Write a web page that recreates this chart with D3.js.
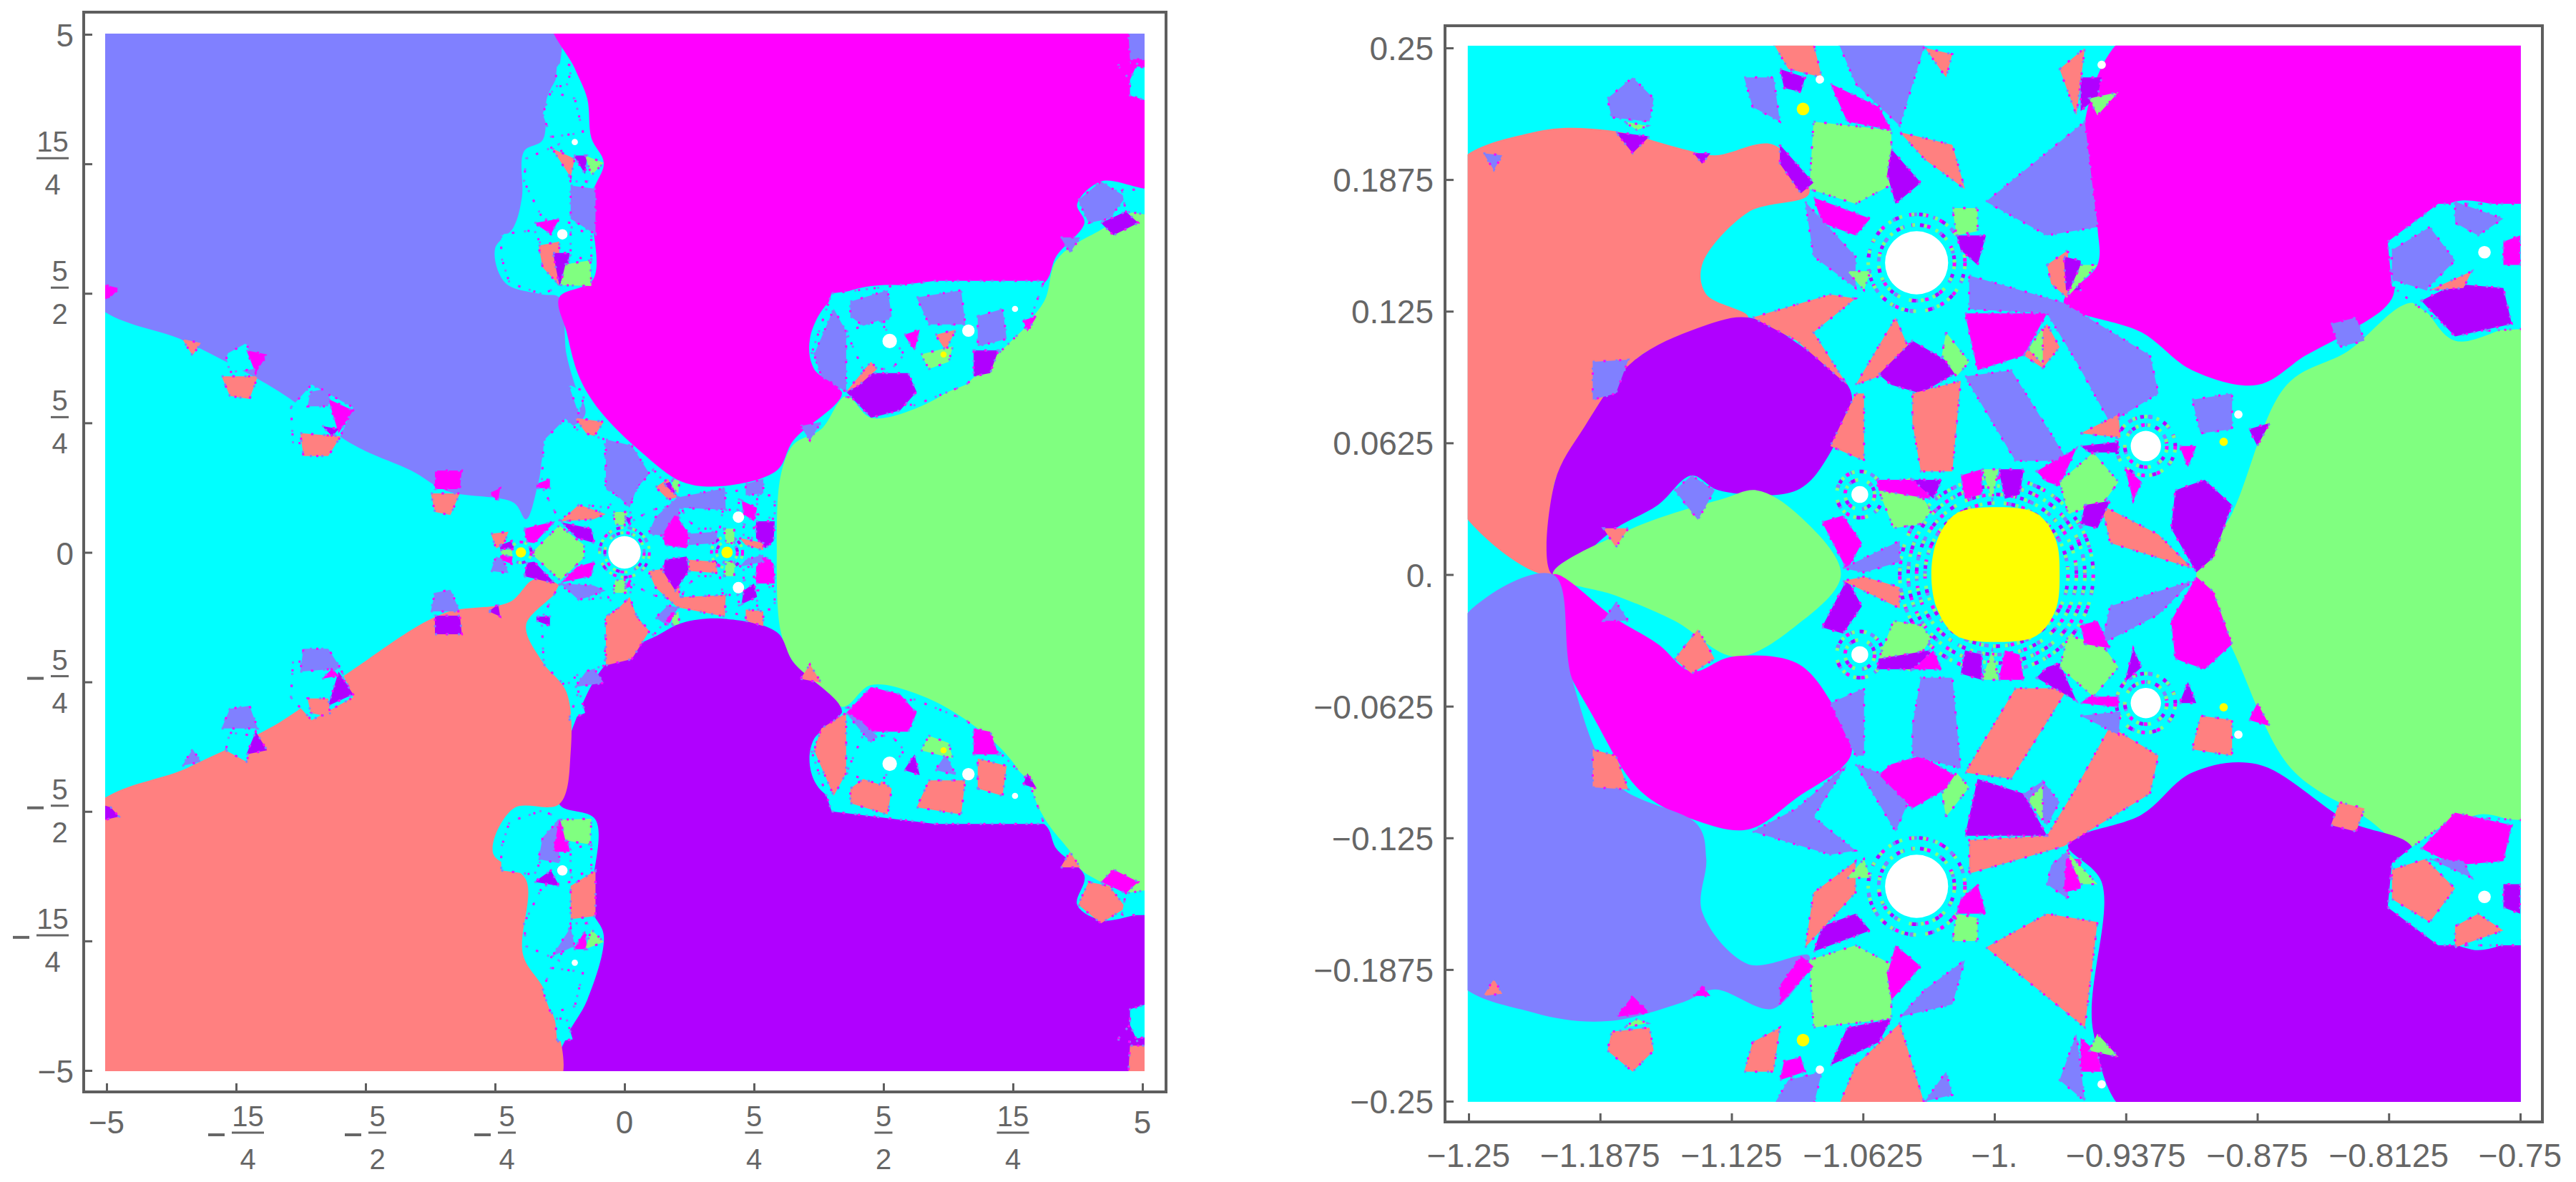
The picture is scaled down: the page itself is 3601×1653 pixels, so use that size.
<!DOCTYPE html>
<html>
<head>
<meta charset="utf-8">
<script src="https://cdn.jsdelivr.net/npm/d3@7"></script>
<style>
  body { margin: 0; background: #fff; }
  text { font-family: "Liberation Sans", sans-serif; fill: #666; }
</style>
</head>
<body>
<div id="chart"></div>
<script>
const basinColors = { a: '#8080ff', m: '#ff00ff', c: '#00ffff', g: '#80ff80', s: '#ff8080', p: '#b000ff', y: '#ffff00', w: '#ffffff' }

// every shape is [basin, x, y, x, y, ...] in plot units
const wideBasins = [
  ['a', -5.2,5.2, -.7,5.2, -.63,4.67, -.75,4.38, -.79,3.98, -.97,3.87, -.99,3.43, -1.07,3.14, -1.25,2.93, -1.15,2.6, -.79,2.49, -.63,2.46, -.56,1.91, -.48,1.62, -.38,1.33, -.75,1.04, -.83,.68, -.95,.32, -1.07,.48, -1.71,.59, -2.06,.79, -2.62,1.04, -3.33,1.55, -4.2,2.02, -5.2,2.5],
  ['m', -.7,5.2, 5.2,5.2, 5.2,3.54, 4.6,3.58, 4.37,3.36, 4.44,3.18, 4.17,2.86, 4.05,2.6, 3.49,2.53, 2.38,2.57, 1.98,2.42, 1.79,2.06, 1.83,1.77, 2.1,1.54, 1.63,1.08, 1.47,.79, .95,.64, .56,.68, .16,.97, -.24,1.37, -.44,1.7, -.56,2.13, -.63,2.46, -.3,2.64, -.32,3.43, -.2,3.76, -.32,4, -.36,4.38, -.48,4.67],
  ['g', 5.2,3.3, 4.52,3.07, 4.17,2.82, 4.05,2.42, 3.73,2.06, 3.33,1.7, 2.86,1.41, 2.38,1.3, 2.14,1.51, 1.9,1.19, 1.63,1.04, 1.51,.75, 1.47,.03, 1.51,-.77, 1.63,-1.06, 2.1,-1.49, 2.38,-1.28, 2.86,-1.38, 3.33,-1.64, 3.73,-2, 4.09,-2.62, 4.29,-2.87, 4.44,-3.09, 5.2,-3.25],
  ['p', -.7,-5.2, 5.2,-5.2, 5.2,-3.52, 4.6,-3.55, 4.37,-3.4, 4.44,-3.12, 4.17,-2.86, 4.05,-2.62, 3.3,-2.5, 2.38,-2.52, 1.9,-2.3, 1.79,-2.06, 1.83,-1.8, 2.1,-1.54, 1.63,-1.06, 1.47,-.77, .95,-.64, .56,-.68, .32,-.8, -.16,-1.06, -.48,-1.64, -.56,-1.93, -.63,-2.43, -.28,-2.58, -.32,-3.43, -.2,-3.7, -.36,-4.32, -.56,-4.68],
  ['s', -5.2,-2.55, -4.2,-2.07, -3.33,-1.64, -2.62,-1.13, -1.75,-.59, -1.11,-.48, -.87,-.26, -.63,-.33, -.95,-.7, -.79,-1.06, -.56,-1.35, -.52,-1.93, -.63,-2.43, -1.07,-2.47, -1.27,-2.9, -.95,-3.16, -.98,-3.88, -.75,-4.28, -.67,-5.2, -5.2,-5.2]
]

const wideUpper = [
  ['c', -3.85,1.91, -3.65,2.02, -3.57,1.77, -3.81,1.74],
  ['s', -3.89,1.7, -3.54,1.7, -3.62,1.48, -3.81,1.51],
  ['m', -3.65,1.95, -3.45,1.91, -3.56,1.73],
  ['c', -3.22,1.4, -3.02,1.62, -2.62,1.4, -2.76,1.08, -3.2,1.05],
  ['s', -3.13,1.15, -2.74,1.12, -2.86,.93, -3.1,.93],
  ['m', -2.86,1.48, -2.62,1.37, -2.76,1.15],
  ['a', -3.03,1.55, -2.84,1.59, -2.86,1.41, -3.06,1.41],
  ['p', -2.92,1.22, -2.76,1.19, -2.82,1.12],
  ['s', -1.87,.57, -1.59,.57, -1.68,.36, -1.83,.39],
  ['m', -1.83,.79, -1.57,.79, -1.59,.61, -1.83,.61],
  ['s', -4.27,2.06, -4.09,2.02, -4.17,1.9],
  ['m', -5.1,2.6, -4.88,2.55, -4.96,2.46, -5.1,2.42],
  ['c', -.71,4.45, -.48,4.38, -.4,4.05, -.71,4.01, -.79,4.23],
  ['c', -.65,4.72, -.5,4.7, -.56,4.5, -.67,4.5],
  ['c', -.95,3.8, -.63,3.94, -.52,3.58, -.36,3.58, -.52,3.18, -.79,3.22, -.97,3.58],
  ['a', -.52,3.54, -.28,3.51, -.28,3.07, -.52,3.22],
  ['s', -.7,3.9, -.48,3.8, -.52,3.62],
  ['p', -.49,3.83, -.36,3.83, -.38,3.65],
  ['g', -.38,3.83, -.2,3.76, -.32,3.64],
  ['c', -1.19,3.07, -.87,3.11, -.63,2.57, -.79,2.49, -1.11,2.6, -1.19,2.85],
  ['s', -.83,2.96, -.63,3, -.63,2.58, -.79,2.75],
  ['p', -.69,2.89, -.53,2.89, -.56,2.67, -.63,2.58],
  ['c', -.52,3.14, -.32,3.07, -.32,2.82, -.52,2.86],
  ['g', -.57,2.78, -.33,2.82, -.32,2.57, -.62,2.58],
  ['m', -.87,3.18, -.63,3.22, -.71,3.07],
  ['s', -.48,1.3, -.2,1.26, -.32,1.08],
  ['c', -.54,1.62, -.38,1.55, -.44,1.33],
  ['c', -.78,1.08, -.57,1.29, -.44,1.17, -.19,1.09, -.18,.62, -.07,.55, -.16,.43, -.39,.46, -.63,.31, -.8,.64],
  ['a', -.18,1.09, .07,1.03, .24,.76, .12,.62, .05,.43, -.07,.55, -.18,.62],
  ['c', .12,.62, .28,.8, .51,.53, .51,.46, .26,.41, .07,.3, .05,.43],
  ['s', -.62,.3, -.44,.46, -.18,.37, -.3,.32],
  ['m', -.97,.23, -.67,.3, -.87,.09, -.94,.1],
  ['p', -.61,.29, -.32,.23, -.29,.09, -.46,.14],
  ['s', -1.29,.18, -1.12,.2, -1.17,.07, -1.24,.04],
  ['p', -1.2,.07, -1.09,.11, -1.08,.04, -1.2,.03],
  ['a', .51,.53, .97,.62, .98,.41, .53,.43, .53,.32, .37,.16, .23,.18, .3,.34],
  ['m', .37,.18, .49,.37, .62,.18, .6,.04, .39,.07],
  ['c', .55,.43, .95,.41, .92,.23, .71,.23, .6,.32],
  ['a', .62,.18, .9,.2, .88,.09, .62,.07],
  ['g', .96,.23, 1.06,.23, 1.06,.09, .98,.09],
  ['c', .97,.57, 1.11,.6, 1.1,.41, .98,.41],
  ['a', 1.17,.66, 1.34,.71, 1.34,.57, 1.17,.55],
  ['c', 1.28,.55, 1.45,.55, 1.45,.32, 1.28,.37],
  ['m', 1.13,.5, 1.28,.43, 1.25,.3, 1.15,.37],
  ['p', 1.27,.3, 1.45,.3, 1.44,.11, 1.36,.04, 1.27,.14],
  ['c', 1.15,.27, 1.25,.25, 1.25,.14, 1.15,.14],
  ['s', 1.11,.14, 1.34,.09, 1.34,.02, 1.17,.07],
  ['s', .3,.63, .42,.71, .51,.53, .42,.51],
  ['p', .38,.66, .44,.68, .5,.55],
  ['g', .46,.71, .53,.69, .52,.57, .46,.62],
  ['g', -.11,.39, .03,.39, 0,.26, -.09,.27],
  ['p', 0,.35, .06,.33, .05,.25],
  ['m', -.85,.66, -.72,.71, -.72,.62, -.85,.62],
  ['m', -1.31,.57, -1.2,.62, -1.22,.5],
  ['c', 2,2.5, 3,2.62, 4.05,2.62, 3.9,2.2, 3.3,1.62, 2.8,1.42, 2.14,1.5, 1.8,1.9],
  ['a', 1.83,1.91, 2.02,2.35, 2.14,2.13, 2.14,1.55, 1.9,1.7],
  ['a', 2.18,2.42, 2.54,2.53, 2.58,2.28, 2.38,2.13, 2.18,2.28],
  ['c', 2.14,2.13, 2.46,2.24, 2.7,1.91, 2.58,1.77, 2.3,1.77],
  ['p', 2.14,1.55, 2.38,1.73, 2.74,1.73, 2.82,1.55, 2.66,1.37, 2.38,1.3],
  ['s', 2.14,1.55, 2.38,1.84, 2.44,1.77, 2.26,1.61],
  ['a', 2.82,2.46, 3.25,2.53, 3.29,2.2, 2.94,2.2],
  ['s', 3,2.1, 3.2,2.15, 3.1,1.95],
  ['m', 2.7,2.1, 2.85,2.15, 2.8,1.95],
  ['g', 2.86,1.91, 3.17,1.99, 3.13,1.84, 2.94,1.77],
  ['p', 3.37,1.95, 3.61,1.95, 3.53,1.73, 3.37,1.7],
  ['a', 3.41,2.28, 3.65,2.35, 3.69,2.06, 3.41,1.99],
  ['m', 3.85,2.24, 3.98,2.28, 3.89,2.13],
  ['a', 4.86,5.1, 5.1,5.1, 5.1,4.76, 4.88,4.76],
  ['c', 4.88,4.7, 5.1,4.67, 5.1,4.34, 4.88,4.41],
  ['m', 4.76,4.7, 4.96,4.74, 4.88,4.56],
  ['a', 4.38,3.4, 4.6,3.58, 4.84,3.43, 4.68,3.22, 4.48,3.18],
  ['c', 4.8,3.5, 5.1,3.5, 5.1,3.25, 4.84,3.29],
  ['p', 4.6,3.18, 4.84,3.29, 4.96,3.18, 4.72,3.06],
  ['a', 1.7,1.22, 1.9,1.26, 1.79,1.08],
  ['a', 4.21,3.04, 4.4,3.04, 4.3,2.89]
]

const wideLower = [
  ['c', -3.85,-1.91, -3.65,-2.02, -3.57,-1.77, -3.81,-1.74],
  ['a', -3.89,-1.7, -3.54,-1.7, -3.62,-1.48, -3.81,-1.51],
  ['p', -3.65,-1.95, -3.45,-1.91, -3.56,-1.73],
  ['c', -3.22,-1.4, -3.02,-1.62, -2.62,-1.4, -2.76,-1.08, -3.2,-1.05],
  ['a', -3.13,-1.15, -2.74,-1.12, -2.86,-.93, -3.1,-.93],
  ['p', -2.86,-1.48, -2.62,-1.37, -2.76,-1.15],
  ['s', -3.03,-1.55, -2.84,-1.59, -2.86,-1.41, -3.06,-1.41],
  ['m', -2.92,-1.22, -2.76,-1.19, -2.82,-1.12],
  ['a', -1.87,-.57, -1.59,-.57, -1.68,-.36, -1.83,-.39],
  ['p', -1.83,-.79, -1.57,-.79, -1.59,-.61, -1.83,-.61],
  ['a', -4.27,-2.06, -4.09,-2.02, -4.17,-1.9],
  ['p', -5.1,-2.6, -4.88,-2.55, -4.96,-2.46, -5.1,-2.42],
  ['c', -.71,-4.45, -.48,-4.38, -.4,-4.05, -.71,-4.01, -.79,-4.23],
  ['c', -.65,-4.72, -.5,-4.7, -.56,-4.5, -.67,-4.5],
  ['c', -.95,-3.8, -.63,-3.94, -.52,-3.58, -.36,-3.58, -.52,-3.18, -.79,-3.22, -.97,-3.58],
  ['s', -.52,-3.54, -.28,-3.51, -.28,-3.07, -.52,-3.22],
  ['a', -.7,-3.9, -.48,-3.8, -.52,-3.62],
  ['m', -.49,-3.83, -.36,-3.83, -.38,-3.65],
  ['g', -.38,-3.83, -.2,-3.76, -.32,-3.64],
  ['c', -1.19,-3.07, -.87,-3.11, -.63,-2.57, -.79,-2.49, -1.11,-2.6, -1.19,-2.85],
  ['a', -.83,-2.96, -.63,-3, -.63,-2.58, -.79,-2.75],
  ['m', -.69,-2.89, -.53,-2.89, -.56,-2.67, -.63,-2.58],
  ['c', -.52,-3.14, -.32,-3.07, -.32,-2.82, -.52,-2.86],
  ['g', -.57,-2.78, -.33,-2.82, -.32,-2.57, -.62,-2.58],
  ['p', -.87,-3.18, -.63,-3.22, -.71,-3.07],
  ['a', -.48,-1.3, -.2,-1.26, -.32,-1.08],
  ['c', -.54,-1.62, -.38,-1.55, -.44,-1.33],
  ['c', -.78,-1.08, -.57,-1.29, -.44,-1.17, -.19,-1.09, -.18,-.62, -.07,-.55, -.16,-.43, -.39,-.46, -.63,-.31, -.8,-.64],
  ['s', -.18,-1.09, .07,-1.03, .24,-.76, .12,-.62, .05,-.43, -.07,-.55, -.18,-.62],
  ['c', .12,-.62, .28,-.8, .51,-.53, .51,-.46, .26,-.41, .07,-.3, .05,-.43],
  ['a', -.62,-.3, -.44,-.46, -.18,-.37, -.3,-.32],
  ['p', -.97,-.23, -.67,-.3, -.87,-.09, -.94,-.1],
  ['m', -.61,-.29, -.32,-.23, -.29,-.09, -.46,-.14],
  ['a', -1.29,-.18, -1.12,-.2, -1.17,-.07, -1.24,-.04],
  ['m', -1.2,-.07, -1.09,-.11, -1.08,-.04, -1.2,-.03],
  ['g', -.88,.01, -.63,.26, -.39,.07, -.39,-.05, -.62,-.27, -.88,-.03],
  ['g', -1.2,.02, -1.08,.03, -1.09,-.03, -1.18,-.03],
  ['s', .51,-.53, .97,-.62, .98,-.41, .53,-.43, .53,-.32, .37,-.16, .23,-.18, .3,-.34],
  ['p', .37,-.18, .49,-.37, .62,-.18, .6,-.04, .39,-.07],
  ['c', .55,-.43, .95,-.41, .92,-.23, .71,-.23, .6,-.32],
  ['s', .62,-.18, .9,-.2, .88,-.09, .62,-.07],
  ['g', .96,-.23, 1.06,-.23, 1.06,-.09, .98,-.09],
  ['c', .97,-.57, 1.11,-.6, 1.1,-.41, .98,-.41],
  ['s', 1.17,-.66, 1.34,-.71, 1.34,-.57, 1.17,-.55],
  ['c', 1.28,-.55, 1.45,-.55, 1.45,-.32, 1.28,-.37],
  ['p', 1.13,-.5, 1.28,-.43, 1.25,-.3, 1.15,-.37],
  ['m', 1.27,-.3, 1.45,-.3, 1.44,-.11, 1.36,-.04, 1.27,-.14],
  ['c', 1.15,-.27, 1.25,-.25, 1.25,-.14, 1.15,-.14],
  ['a', 1.11,-.14, 1.34,-.09, 1.34,-.02, 1.17,-.07],
  ['a', .3,-.63, .42,-.71, .51,-.53, .42,-.51],
  ['m', .38,-.66, .44,-.68, .5,-.55],
  ['g', .46,-.71, .53,-.69, .52,-.57, .46,-.62],
  ['g', -.11,-.39, .03,-.39, 0,-.26, -.09,-.27],
  ['m', 0,-.35, .06,-.33, .05,-.25],
  ['p', -.85,-.66, -.72,-.71, -.72,-.62, -.85,-.62],
  ['p', -1.31,-.57, -1.2,-.62, -1.22,-.5],
  ['c', 2,-2.5, 3,-2.62, 4.05,-2.62, 3.9,-2.2, 3.3,-1.62, 2.8,-1.42, 2.14,-1.5, 1.8,-1.9],
  ['s', 1.83,-1.91, 2.02,-2.35, 2.14,-2.13, 2.14,-1.55, 1.9,-1.7],
  ['s', 2.18,-2.42, 2.54,-2.53, 2.58,-2.28, 2.38,-2.13, 2.18,-2.28],
  ['c', 2.14,-2.13, 2.46,-2.24, 2.7,-1.91, 2.58,-1.77, 2.3,-1.77],
  ['m', 2.14,-1.55, 2.38,-1.73, 2.74,-1.73, 2.82,-1.55, 2.66,-1.37, 2.38,-1.3],
  ['a', 2.14,-1.55, 2.38,-1.84, 2.44,-1.77, 2.26,-1.61],
  ['s', 2.82,-2.46, 3.25,-2.53, 3.29,-2.2, 2.94,-2.2],
  ['a', 3,-2.1, 3.2,-2.15, 3.1,-1.95],
  ['p', 2.7,-2.1, 2.85,-2.15, 2.8,-1.95],
  ['g', 2.86,-1.91, 3.17,-1.99, 3.13,-1.84, 2.94,-1.77],
  ['m', 3.37,-1.95, 3.61,-1.95, 3.53,-1.73, 3.37,-1.7],
  ['s', 3.41,-2.28, 3.65,-2.35, 3.69,-2.06, 3.41,-1.99],
  ['p', 3.85,-2.24, 3.98,-2.28, 3.89,-2.13],
  ['s', 4.86,-5.1, 5.1,-5.1, 5.1,-4.76, 4.88,-4.76],
  ['c', 4.88,-4.7, 5.1,-4.67, 5.1,-4.34, 4.88,-4.41],
  ['p', 4.76,-4.7, 4.96,-4.74, 4.88,-4.56],
  ['s', 4.38,-3.4, 4.6,-3.58, 4.84,-3.43, 4.68,-3.22, 4.48,-3.18],
  ['c', 4.8,-3.5, 5.1,-3.5, 5.1,-3.25, 4.84,-3.29],
  ['m', 4.6,-3.18, 4.84,-3.29, 4.96,-3.18, 4.72,-3.06],
  ['s', 1.7,-1.22, 1.9,-1.26, 1.79,-1.08],
  ['s', 4.21,-3.04, 4.4,-3.04, 4.3,-2.89]
]

const wideDiscs = [
  ['w',0,0,.157], ['w',1.1,.34,.055], ['w',1.1,-.34,.055], ['y',.99,0,.055], ['y',-1,0,.05],
  ['w',-.6,3.07,.05], ['w',-.48,3.96,.03], ['w',-.6,-3.07,.05], ['w',-.48,-3.96,.03],
  ['w',2.56,2.04,.07], ['w',3.32,2.14,.06], ['w',3.77,2.35,.03], ['y',3.08,1.91,.03],
  ['w',2.56,-2.04,.07], ['w',3.32,-2.14,.06], ['w',3.77,-2.35,.03], ['y',3.08,-1.91,.03]
]
const wideRings = [[0,0,.19], [0,0,.24], [.99,0,.1], [.99,0,.15], [-1,0,.1], [2.56,2.04,.12], [2.56,-2.04,.12], [3.32,2.14,.11], [3.32,-2.14,.11]]

const zoomBasins = [
  ['s', -1.26,.19, -1.219,.21, -1.184,.211, -1.148,.202, -1.133,.199, -1.105,.204, -1.088,.181, -1.117,.172, -1.139,.147, -1.137,.133, -1.117,.122, -1.168,.104, -1.191,.072, -1.209,.044, -1.21,0, -1.26,.04],
  ['p', -1.21,0, -1.209,.044, -1.195,.07, -1.172,.101, -1.141,.117, -1.117,.122, -1.094,.11, -1.068,.086, -1.078,.058, -1.094,.04, -1.131,.04, -1.144,.047, -1.16,.033, -1.18,.022],
  ['g', -1.21,0, -1.172,.022, -1.129,.036, -1.113,.04, -1.094,.029, -1.073,0, -1.094,-.024, -1.123,-.039, -1.152,-.022, -1.18,-.01],
  ['m', -1.21,0, -1.207,-.035, -1.191,-.067, -1.168,-.103, -1.141,-.117, -1.117,-.121, -1.094,-.106, -1.068,-.085, -1.078,-.06, -1.094,-.042, -1.125,-.039, -1.144,-.046, -1.16,-.033, -1.18,-.021],
  ['a', -1.26,-.03, -1.21,0, -1.201,-.049, -1.18,-.099, -1.141,-.119, -1.137,-.135, -1.139,-.16, -1.117,-.185, -1.088,-.181, -1.105,-.206, -1.133,-.197, -1.148,-.203, -1.184,-.212, -1.219,-.208, -1.26,-.188],
  ['m', -.932,.26, -.74,.26, -.74,.176, -.781,.177, -.809,.158, -.811,.131, -.832,.115, -.852,.104, -.875,.09, -.906,.097, -.93,.115, -.967,.129, -.951,.147, -.951,.165, -.957,.215],
  ['g', -.74,.117, -.74,-.116, -.77,-.114, -.801,-.13, -.824,-.115, -.859,-.092, -.887,-.035, -.904,0, -.887,.029, -.861,.09, -.832,.106, -.801,.129, -.781,.111],
  ['p', -.932,-.26, -.74,-.26, -.74,-.174, -.773,-.178, -.809,-.156, -.801,-.13, -.832,-.117, -.875,-.09, -.906,-.094, -.93,-.114, -.965,-.128, -.949,-.146, -.953,-.217]
]

const zoomUpper = [
  ['a', -1.074,.252, -1.033,.252, -1.045,.213, -1.066,.233],
  ['s', -1.105,.252, -1.086,.252, -1.082,.236, -1.098,.24],
  ['g', -1.086,.215, -1.049,.211, -1.049,.185, -1.066,.176, -1.088,.183],
  ['p', -1.102,.204, -1.086,.186, -1.092,.181, -1.102,.195],
  ['p', -1.049,.202, -1.035,.186, -1.047,.176, -1.051,.19],
  ['s', -1.045,.21, -1.02,.204, -1.014,.183, -1.033,.197],
  ['m', -1.078,.233, -1.055,.222, -1.049,.211, -1.07,.215],
  ['m', -1.086,.179, -1.059,.169, -1.066,.161, -1.082,.167],
  ['a', -1.09,.177, -1.066,.151, -1.066,.136, -1.086,.151],
  ['s', -1.115,.122, -1.078,.133, -1.066,.131, -1.086,.115, -1.07,.09, -1.094,.111],
  ['s', -1.066,.086, -1.062,.086, -1.062,.054, -1.078,.061],
  ['s', -1.066,.09, -1.047,.122, -1.041,.108, -1.055,.094],
  ['p', -1.055,.095, -1.039,.111, -1.027,.104, -1.016,.097, -1.035,.086, -1.049,.09],
  ['g', -1.023,.115, -1.012,.101, -1.018,.094, -1.025,.104],
  ['a', -1.012,.142, -.967,.129, -.926,.104, -.922,.086, -.945,.072, -.961,.101, -.975,.124, -1.012,.126],
  ['m', -1.014,.124, -.975,.124, -.986,.104, -1.008,.097],
  ['s', -.986,.104, -.975,.119, -.969,.108, -.977,.098],
  ['g', -.984,.107, -.977,.117, -.977,.1],
  ['a', -1.014,.094, -.992,.097, -.965,.054, -.99,.054],
  ['s', -1.039,.086, -1.016,.092, -1.02,.049, -1.035,.049, -1.039,.072],
  ['a', -1.004,.177, -.957,.215, -.951,.165, -.975,.161],
  ['s', -.975,.147, -.965,.154, -.965,.131, -.973,.138],
  ['p', -.967,.151, -.959,.149, -.959,.135, -.966,.135],
  ['g', -.959,.147, -.951,.147, -.966,.131],
  ['s', -.969,.24, -.957,.25, -.961,.218],
  ['p', -.959,.236, -.949,.236, -.951,.227, -.959,.22],
  ['g', -.955,.226, -.941,.229, -.951,.218],
  ['a', -1.184,.226, -1.172,.236, -1.162,.226, -1.164,.215, -1.182,.217],
  ['p', -1.18,.21, -1.164,.208, -1.172,.2],
  ['g', -1.176,.215, -1.165,.213, -1.17,.211],
  ['a', -1.243,.2, -1.234,.199, -1.238,.192],
  ['p', -1.143,.2, -1.135,.2, -1.139,.195],
  ['a', -1.119,.236, -1.105,.236, -1.102,.215, -1.115,.222],
  ['p', -1.102,.24, -1.09,.236, -1.092,.229, -1.1,.231],
  ['s', -1.033,.25, -1.02,.247, -1.023,.236],
  ['g', -1.02,.174, -1.008,.174, -1.008,.163, -1.018,.161],
  ['p', -1.018,.161, -1.004,.161, -1.008,.147, -1.016,.154],
  ['g', -1.07,.144, -1.059,.144, -1.062,.135],
  ['m', -.98,.049, -.961,.06, -.969,.042, -.975,.044],
  ['g', -.969,.044, -.953,.058, -.941,.044, -.949,.033, -.965,.029],
  ['p', -.959,.061, -.941,.063, -.941,.058, -.955,.058],
  ['s', -.959,.067, -.941,.076, -.94,.065],
  ['p', -.914,.04, -.9,.045, -.887,.033, -.896,.008, -.904,.001, -.916,.022],
  ['s', -.949,.033, -.922,.019, -.906,.003, -.945,.015],
  ['p', -.957,.033, -.945,.035, -.951,.022, -.959,.024],
  ['m', -.938,.051, -.93,.044, -.934,.035],
  ['m', -.912,.061, -.904,.061, -.908,.051],
  ['a', -.906,.083, -.887,.086, -.887,.069, -.902,.067],
  ['p', -.879,.069, -.869,.072, -.875,.061],
  ['g', -1.055,.04, -1.04,.046, -1.03,.03, -1.035,.024, -1.048,.022],
  ['m', -1.082,.025, -1.072,.028, -1.063,.015, -1.07,.002],
  ['a', -1.072,.003, -1.045,.016, -1.045,.006, -1.062,.001],
  ['m', -1.056,.045, -1.027,.045, -1.031,.036, -1.055,.04],
  ['p', -1.039,.045, -1.025,.045, -1.029,.036],
  ['m', -1.016,.047, -1.006,.05, -1.006,.038, -1.014,.036],
  ['p', -.998,.05, -.986,.05, -.988,.038, -.995,.036],
  ['g', -1.006,.05, -.998,.05, -1.001,.036],
  ['a', -1.152,.04, -1.144,.047, -1.133,.04, -1.141,.026],
  ['s', -1.186,.022, -1.174,.022, -1.18,.013],
  ['a', -.84,.119, -.828,.122, -.824,.111, -.836,.108],
  ['a', -1.191,.101, -1.174,.102, -1.18,.086, -1.191,.083],
  ['c', -.813,.158, -.789,.176, -.74,.176, -.74,.117, -.781,.115, -.801,.129, -.811,.137],
  ['a', -.811,.154, -.793,.165, -.781,.149, -.795,.135, -.811,.14],
  ['p', -.797,.13, -.781,.138, -.758,.136, -.754,.119, -.781,.113],
  ['s', -.793,.135, -.773,.144, -.777,.136],
  ['a', -.781,.177, -.758,.169, -.77,.161, -.781,.167],
  ['m', -.758,.158, -.75,.161, -.75,.147, -.758,.147]
]

const zoomLower = [
  ['s', -1.074,-.252, -1.033,-.252, -1.045,-.213, -1.066,-.233],
  ['a', -1.105,-.252, -1.086,-.252, -1.082,-.236, -1.098,-.24],
  ['g', -1.086,-.215, -1.049,-.211, -1.049,-.185, -1.066,-.176, -1.088,-.183],
  ['m', -1.102,-.204, -1.086,-.186, -1.092,-.181, -1.102,-.195],
  ['m', -1.049,-.202, -1.035,-.186, -1.047,-.176, -1.051,-.19],
  ['a', -1.045,-.21, -1.02,-.204, -1.014,-.183, -1.033,-.197],
  ['p', -1.078,-.233, -1.055,-.222, -1.049,-.211, -1.07,-.215],
  ['p', -1.086,-.179, -1.059,-.169, -1.066,-.161, -1.082,-.167],
  ['s', -1.09,-.177, -1.066,-.151, -1.066,-.136, -1.086,-.151],
  ['a', -1.115,-.122, -1.078,-.133, -1.066,-.131, -1.086,-.115, -1.07,-.09, -1.094,-.111],
  ['a', -1.066,-.086, -1.062,-.086, -1.062,-.054, -1.078,-.061],
  ['a', -1.066,-.09, -1.047,-.122, -1.041,-.108, -1.055,-.094],
  ['m', -1.055,-.095, -1.039,-.111, -1.027,-.104, -1.016,-.097, -1.035,-.086, -1.049,-.09],
  ['g', -1.023,-.115, -1.012,-.101, -1.018,-.094, -1.025,-.104],
  ['s', -1.012,-.142, -.967,-.129, -.926,-.104, -.922,-.086, -.945,-.072, -.961,-.101, -.975,-.124, -1.012,-.126],
  ['p', -1.014,-.124, -.975,-.124, -.986,-.104, -1.008,-.097],
  ['a', -.986,-.104, -.975,-.119, -.969,-.108, -.977,-.098],
  ['g', -.984,-.107, -.977,-.117, -.977,-.1],
  ['s', -1.014,-.094, -.992,-.097, -.965,-.054, -.99,-.054],
  ['a', -1.039,-.086, -1.016,-.092, -1.02,-.049, -1.035,-.049, -1.039,-.072],
  ['s', -1.004,-.177, -.957,-.215, -.951,-.165, -.975,-.161],
  ['a', -.975,-.147, -.965,-.154, -.965,-.131, -.973,-.138],
  ['m', -.967,-.151, -.959,-.149, -.959,-.135, -.966,-.135],
  ['g', -.959,-.147, -.951,-.147, -.966,-.131],
  ['a', -.969,-.24, -.957,-.25, -.961,-.218],
  ['m', -.959,-.236, -.949,-.236, -.951,-.227, -.959,-.22],
  ['g', -.955,-.226, -.941,-.229, -.951,-.218],
  ['s', -1.184,-.226, -1.172,-.236, -1.162,-.226, -1.164,-.215, -1.182,-.217],
  ['m', -1.18,-.21, -1.164,-.208, -1.172,-.2],
  ['g', -1.176,-.215, -1.165,-.213, -1.17,-.211],
  ['s', -1.243,-.2, -1.234,-.199, -1.238,-.192],
  ['m', -1.143,-.2, -1.135,-.2, -1.139,-.195],
  ['s', -1.119,-.236, -1.105,-.236, -1.102,-.215, -1.115,-.222],
  ['m', -1.102,-.24, -1.09,-.236, -1.092,-.229, -1.1,-.231],
  ['a', -1.033,-.25, -1.02,-.247, -1.023,-.236],
  ['g', -1.02,-.174, -1.008,-.174, -1.008,-.163, -1.018,-.161],
  ['m', -1.018,-.161, -1.004,-.161, -1.008,-.147, -1.016,-.154],
  ['g', -1.07,-.144, -1.059,-.144, -1.062,-.135],
  ['p', -.98,-.049, -.961,-.06, -.969,-.042, -.975,-.044],
  ['g', -.969,-.044, -.953,-.058, -.941,-.044, -.949,-.033, -.965,-.029],
  ['m', -.959,-.061, -.941,-.063, -.941,-.058, -.955,-.058],
  ['a', -.959,-.067, -.941,-.076, -.94,-.065],
  ['m', -.914,-.04, -.9,-.045, -.887,-.033, -.896,-.008, -.904,-.001, -.916,-.022],
  ['a', -.949,-.033, -.922,-.019, -.906,-.003, -.945,-.015],
  ['m', -.957,-.033, -.945,-.035, -.951,-.022, -.959,-.024],
  ['p', -.938,-.051, -.93,-.044, -.934,-.035],
  ['p', -.912,-.061, -.904,-.061, -.908,-.051],
  ['s', -.906,-.083, -.887,-.086, -.887,-.069, -.902,-.067],
  ['m', -.879,-.069, -.869,-.072, -.875,-.061],
  ['g', -1.055,-.04, -1.04,-.046, -1.03,-.03, -1.035,-.024, -1.048,-.022],
  ['p', -1.082,-.025, -1.072,-.028, -1.063,-.015, -1.07,-.002],
  ['s', -1.072,-.003, -1.045,-.016, -1.045,-.006, -1.062,-.001],
  ['p', -1.056,-.045, -1.027,-.045, -1.031,-.036, -1.055,-.04],
  ['m', -1.039,-.045, -1.025,-.045, -1.029,-.036],
  ['p', -1.016,-.047, -1.006,-.05, -1.006,-.038, -1.014,-.036],
  ['m', -.998,-.05, -.986,-.05, -.988,-.038, -.995,-.036],
  ['g', -1.006,-.05, -.998,-.05, -1.001,-.036],
  ['s', -1.152,-.04, -1.144,-.047, -1.133,-.04, -1.141,-.026],
  ['a', -1.186,-.022, -1.174,-.022, -1.18,-.013],
  ['s', -.84,-.119, -.828,-.122, -.824,-.111, -.836,-.108],
  ['s', -1.191,-.101, -1.174,-.102, -1.18,-.086, -1.191,-.083],
  ['c', -.813,-.158, -.789,-.176, -.74,-.176, -.74,-.117, -.781,-.115, -.801,-.129, -.811,-.137],
  ['s', -.811,-.154, -.793,-.165, -.781,-.149, -.795,-.135, -.811,-.14],
  ['m', -.797,-.13, -.781,-.138, -.758,-.136, -.754,-.119, -.781,-.113],
  ['a', -.793,-.135, -.773,-.144, -.777,-.136],
  ['s', -.781,-.177, -.758,-.169, -.77,-.161, -.781,-.167],
  ['p', -.758,-.158, -.75,-.161, -.75,-.147, -.758,-.147]
]

const zoomDiscs = [
  ['w',-1.037,.148,.015], ['w',-1.037,-.148,.015], ['w',-.928,.061,.0072], ['w',-.928,-.061,.0072],
  ['w',-1.064,.038,.004], ['w',-1.064,-.038,.004], ['w',-.884,.076,.002], ['w',-.884,-.076,.002],
  ['y',-.891,.063,.002], ['y',-.891,-.063,.002], ['w',-.767,.153,.003], ['w',-.767,-.153,.003],
  ['w',-1.083,.235,.002], ['w',-1.083,-.235,.002], ['w',-.949,.242,.002], ['w',-.949,-.242,.002],
  ['y',-1.091,.221,.003], ['y',-1.091,-.221,.003]
]
const zoomRings = [
  [-.999,0,.034], [-.999,0,.038], [-.999,0,.042], [-.999,0,.046],
  [-1.037,.148,.018], [-1.037,.148,.023], [-1.037,-.148,.018], [-1.037,-.148,.023],
  [-.928,.061,.01], [-.928,.061,.014], [-.928,-.061,.01], [-.928,-.061,.014],
  [-1.064,.038,.007], [-1.064,.038,.011], [-1.064,-.038,.007], [-1.064,-.038,.011]
]
const zoomYellow = ['y', -.999,.032, -.98,.029, -.971,.017, -.969,0, -.971,-.017, -.98,-.029, -.999,-.032, -1.018,-.029, -1.027,-.017, -1.03,0, -1.027,.017, -1.018,.029]

const wideTicks = [-5, -3.75, -2.5, -1.25, 0, 1.25, 2.5, 3.75, 5]
const wideTickLabels = [[-1,'5',''], [-1,'15','4'], [-1,'5','2'], [-1,'5','4'], [1,'0',''], [1,'5','4'], [1,'5','2'], [1,'15','4'], [1,'5','']]
const zoomXTicks = [-1.25, -1.1875, -1.125, -1.0625, -1, -.9375, -.875, -.8125, -.75]
const zoomXLabels = ['−1.25', '−1.1875', '−1.125', '−1.0625', '−1.', '−0.9375', '−0.875', '−0.8125', '−0.75']
const zoomYTicks = [.25, .1875, .125, .0625, 0, -.0625, -.125, -.1875, -.25]
const zoomYLabels = ['0.25', '0.1875', '0.125', '0.0625', '0.', '−0.0625', '−0.125', '−0.1875', '−0.25']

const svg = d3.select('#chart').append('svg').attr('width', 3601).attr('height', 1653)

const panels = [
  { id: 'wide', frame: [117, 17, 1630, 1527], ringWidth: 4,
    x: d3.scaleLinear().domain([-5, 5]).range([149, 1597]),
    y: d3.scaleLinear().domain([-5, 5]).range([1497, 48]),
    xClip: [-5.014, 5.02], yClip: [-5.007, 5.007],
    basins: wideBasins, rings: wideRings, details: wideUpper.concat(wideLower), discs: wideDiscs },
  { id: 'zoom', frame: [2020, 36, 3554, 1569], ringWidth: 5,
    x: d3.scaleLinear().domain([-1.25, -.75]).range([2053, 3523]),
    y: d3.scaleLinear().domain([-.25, .25]).range([1540, 67]),
    xClip: [-1.2505, -.7497], yClip: [-.2503, .2511],
    basins: zoomBasins, rings: zoomRings, details: zoomUpper.concat(zoomLower), discs: zoomDiscs }
]

function points(shape) {
  const pts = []
  for (let i = 1; i < shape.length; i += 2) pts.push([shape[i], shape[i + 1]])
  return pts
}

panels.forEach(panel => {
  const { x, y } = panel
  const clipLeft = x(panel.xClip[0])
  const clipTop = y(panel.yClip[1])
  const clipWidth = x(panel.xClip[1]) - clipLeft
  const clipHeight = y(panel.yClip[0]) - clipTop

  svg.append('clipPath').attr('id', 'clip-' + panel.id).append('rect')
    .attr('x', clipLeft).attr('y', clipTop).attr('width', clipWidth).attr('height', clipHeight)

  const plot = svg.append('g').attr('clip-path', 'url(#clip-' + panel.id + ')')

  plot.append('rect')
    .attr('x', clipLeft).attr('y', clipTop).attr('width', clipWidth).attr('height', clipHeight)
    .attr('fill', basinColors.c)

  const smooth = d3.line().x(d => x(d[0])).y(d => y(d[1])).curve(d3.curveCatmullRomClosed.alpha(.5))
  const sharp = d3.line().x(d => x(d[0])).y(d => y(d[1])).curve(d3.curveLinearClosed)

  plot.selectAll('path.basin').data(panel.basins).enter().append('path')
    .attr('class', 'basin')
    .attr('d', d => smooth(points(d)))
    .attr('fill', d => basinColors[d[0]])

  // broken rings stand in for the speckled belts round each attracting disc
  const ringDashes = [['#ff00ff', '5 17'], ['#8080ff', '6 23'], ['#80ff80', '4 13'], ['#b000ff', '5 29']]
  ringDashes.forEach(([color, dash], i) => {
    plot.selectAll('ellipse.ring' + i).data(panel.rings).enter().append('ellipse')
      .attr('class', 'ring' + i)
      .attr('cx', d => x(d[0])).attr('cy', d => y(d[1]))
      .attr('rx', d => x(d[0] + d[2]) - x(d[0]))
      .attr('ry', d => y(d[1] - d[2]) - y(d[1]))
      .attr('fill', 'none')
      .attr('stroke', color)
      .attr('stroke-width', panel.ringWidth)
      .attr('stroke-dasharray', dash)
      .attr('stroke-dashoffset', i * 6)
  })

  const details = plot.selectAll('g.detail').data(panel.details).enter().append('g').attr('class', 'detail')
  details.append('path')
    .attr('d', d => sharp(points(d)))
    .attr('fill', d => basinColors[d[0]])
  details.append('path')
    .attr('d', d => sharp(points(d)))
    .attr('fill', 'none')
    .attr('stroke', '#8080ff')
    .attr('stroke-width', 3)
    .attr('stroke-dasharray', '3 13')
  details.append('path')
    .attr('d', d => sharp(points(d)))
    .attr('fill', 'none')
    .attr('stroke', '#ff00ff')
    .attr('stroke-width', 3)
    .attr('stroke-dasharray', '3 19')
    .attr('stroke-dashoffset', 7)

  if (panel.id === 'zoom') {
    plot.append('path')
      .attr('d', smooth(points(zoomYellow)))
      .attr('fill', basinColors.y)
  }

  plot.selectAll('ellipse.disc').data(panel.discs).enter().append('ellipse')
    .attr('class', 'disc')
    .attr('cx', d => x(d[1])).attr('cy', d => y(d[2]))
    .attr('rx', d => x(d[1] + d[3]) - x(d[1]))
    .attr('ry', d => y(d[2] - d[3]) - y(d[2]))
    .attr('fill', d => basinColors[d[0]])

  const [fl, ft, fr, fb] = panel.frame
  svg.append('rect')
    .attr('x', fl).attr('y', ft).attr('width', fr - fl).attr('height', fb - ft)
    .attr('fill', 'none').attr('stroke', '#5e5e5e').attr('stroke-width', 4)

  panel.xAxis = svg.append('g').attr('transform', 'translate(0,' + fb + ')')
  panel.yAxis = svg.append('g').attr('transform', 'translate(' + fl + ',0)')
})

function styleAxis(g) {
  g.select('.domain').remove()
  g.selectAll('.tick line').attr('stroke', '#5e5e5e').attr('stroke-width', 3)
  g.selectAll('.tick text').remove()
}

// Mathematica style stacked fraction, or a plain number when there is no denominator
function drawWideLabel(g, label, cx, cy, barY, rightEdge) {
  const [sign, top, bottom] = label
  if (!bottom) {
    const text = (sign < 0 ? '−' : '') + top
    g.append('text')
      .attr('x', rightEdge === null ? cx : rightEdge)
      .attr('y', cy)
      .attr('font-size', 44)
      .attr('text-anchor', rightEdge === null ? 'middle' : 'end')
      .text(text)
    return
  }
  const barWidth = top.length > 1 ? 45 : 25
  const total = (sign < 0 ? 33 : 0) + barWidth
  const barRight = rightEdge === null ? cx + total / 2 : rightEdge
  const barLeft = barRight - barWidth
  g.append('line')
    .attr('x1', barLeft).attr('x2', barRight).attr('y1', barY).attr('y2', barY)
    .attr('stroke', '#666').attr('stroke-width', 3)
  g.append('text').attr('x', (barLeft + barRight) / 2).attr('y', barY - 9)
    .attr('font-size', 40).attr('text-anchor', 'middle').text(top)
  g.append('text').attr('x', (barLeft + barRight) / 2).attr('y', barY + 51)
    .attr('font-size', 40).attr('text-anchor', 'middle').text(bottom)
  if (sign < 0) {
    g.append('line')
      .attr('x1', barLeft - 33).attr('x2', barLeft - 10).attr('y1', barY + 3).attr('y2', barY + 3)
      .attr('stroke', '#666').attr('stroke-width', 4)
  }
}

const wide = panels[0]
wide.xAxis.call(d3.axisBottom(wide.x).tickValues(wideTicks).tickSize(-12)).call(styleAxis)
wide.yAxis.call(d3.axisLeft(wide.y).tickValues(wideTicks).tickSize(-12)).call(styleAxis)

const wideLabels = svg.append('g')
wideTicks.forEach((t, i) => {
  const xLabel = wideTickLabels[i]
  drawWideLabel(wideLabels, xLabel, wide.x(t), 1585, 1584, null)
  drawWideLabel(wideLabels, xLabel, null, wide.y(t) + 17, wide.y(t) - 8, xLabel[2] ? 96 : 103)
})

const zoom = panels[1]
zoom.xAxis.call(d3.axisBottom(zoom.x).tickValues(zoomXTicks).tickSize(-12)).call(styleAxis)
zoom.yAxis.call(d3.axisLeft(zoom.y).tickValues(zoomYTicks).tickSize(-12)).call(styleAxis)

svg.append('g').selectAll('text').data(zoomXTicks).enter().append('text')
  .attr('x', d => zoom.x(d)).attr('y', 1632)
  .attr('font-size', 46).attr('text-anchor', 'middle')
  .text((d, i) => zoomXLabels[i])

svg.append('g').selectAll('text').data(zoomYTicks).enter().append('text')
  .attr('x', 2004).attr('y', d => zoom.y(d) + 17)
  .attr('font-size', 46).attr('text-anchor', 'end')
  .text((d, i) => zoomYLabels[i])
</script>
</body>
</html>
